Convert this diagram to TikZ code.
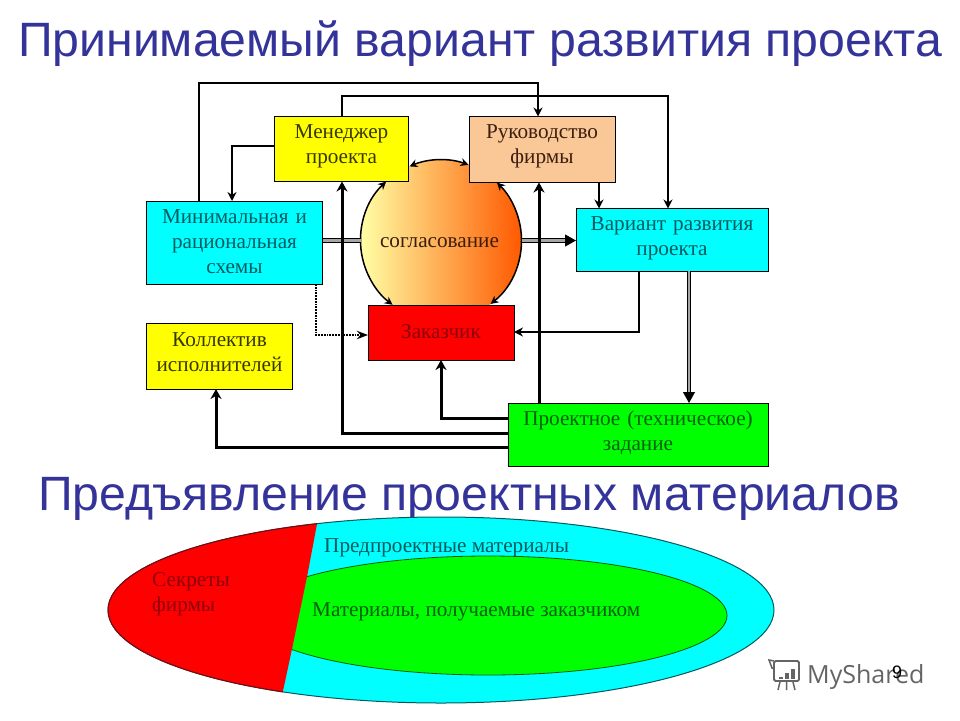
\documentclass[tikz,border=0pt]{standalone}
\usepackage{fontspec}
\setmainfont{Liberation Serif}
\newfontfamily\headfont{Liberation Sans}
\newfontfamily\logofont{Open Sans}
\usetikzlibrary{arrows.meta}
\definecolor{TitleColor}{RGB}{51,51,153}
\definecolor{CyanFill}{RGB}{0,255,255}
\definecolor{YellowFill}{RGB}{255,255,0}
\definecolor{PeachFill}{RGB}{250,200,150}
\definecolor{RedFill}{RGB}{255,0,0}
\definecolor{GreenFill}{RGB}{0,255,0}
\definecolor{CyanText}{RGB}{0,90,95}
\definecolor{YellowText}{RGB}{55,55,0}
\definecolor{PeachText}{RGB}{60,30,15}
\definecolor{RedText}{RGB}{140,0,10}
\definecolor{GreenText}{RGB}{0,95,10}
\definecolor{LogoColor}{RGB}{100,100,100}
\tikzstyle{arrow} = [line width=2pt, ->, >={Stealth[length=9pt,width=9pt]}]
\tikzstyle{heavy} = [line width=3pt, ->, >={Stealth[length=10pt,width=11pt]}]
\tikzstyle{twin} = [draw=black, line width=1pt, double=black!35, double distance=2.2pt, -{Triangle[length=11pt,width=12pt]}]
\tikzstyle{twinplain} = [draw=black, line width=1pt, double=black!35, double distance=2.2pt]
\tikzstyle{dots} = [line width=1.8pt, densely dotted, ->, >=Stealth]
\tikzstyle{rim} = [line width=1.5pt, <->, >={Stealth[length=8pt,width=8pt]}]
\tikzset{
  box/.style={draw=black, line width=0.8pt, anchor=north west, inner sep=0pt, outer sep=0pt,
    align=center, font=\fontsize{21.2}{25}\selectfont},
  title/.style={anchor=base, text=TitleColor, inner sep=0pt, font=\headfont\fontsize{48.2}{54}\selectfont},
  oval text/.style={anchor=base west, inner sep=0pt, align=left, font=\fontsize{21.2}{25}\selectfont}
}

\begin{document}
\begin{tikzpicture}[x=1pt,y=-1pt]
    \useasboundingbox (0,0) rectangle (960,720);

    % Titles
    \node[title] (head) at (480,56) {Принимаемый вариант развития проекта};
    \node[title] (subhead) at (469,510) {Предъявление проектных материалов};

    % Circle
    \node[circle, minimum size=161pt, inner sep=0pt, outer sep=0pt, left color=yellow!35, middle color=orange!55!yellow!70, right color=orange!70!red,
        text=PeachText, text height=13pt, text depth=0pt, font=\fontsize{21.2}{25}\selectfont] (agree) at (441,240.5) {согласование\hspace*{3pt}};
    \foreach \a/\b in {70/113, 133/233, 308/406} {
            \draw[rim] (agree.\a) arc[start angle=\a, end angle=\b, radius=80.5pt];
        }

    % Boxes
    \node[box, fill=YellowFill, text=YellowText, text width=134pt, text height=22pt, text depth=43pt] (mgr) at (274.5,116.5) {Менеджер\\проекта};
    \node[box, fill=PeachFill, text=PeachText, text width=146pt, text height=22pt, text depth=44pt] (boss) at (469,116.5) {Руководство\\фирмы};
    \node[box, fill=CyanFill, text=CyanText, text width=176pt, text height=22pt, text depth=61pt] (minim) at (146.5,201) {Минимальная и\\рациональная\\схемы};
    \node[box, fill=CyanFill, text=CyanText, text width=192pt, text height=22pt, text depth=40.5pt] (var) at (576,208.5) {Вариант развития\\проекта};
    \node[box, fill=YellowFill, text=YellowText, text width=146pt, text height=23pt, text depth=43pt] (team) at (146.5,323) {Коллектив\\исполнителей};
    \node[box, fill=RedFill, text=RedText, text width=146pt, text height=33pt, text depth=22pt] (client) at (368,305) {Заказчик};
    \node[box, fill=GreenFill, text=GreenText, text width=260pt, text height=22pt, text depth=41pt] (task) at (508,403) {Проектное (техническое)\\задание};

    % Routing points
    \coordinate (busA) at (199,83);
    \coordinate (dropA) at (538,83);
    \coordinate (busB) at (342,96);
    \coordinate (dropB) at (668,96);
    \coordinate (kneeC) at (232,146);
    \coordinate (dropD) at (599,195);
    \coordinate (kneeE) at (639,332);
    \coordinate (dropF) at (689,340);
    \coordinate (kneeG) at (316,335);
    \coordinate (kneeH) at (441,418);
    \coordinate (kneeI) at (342,433);
    \coordinate (kneeJ) at (216,447);
    \coordinate (dropK) at (539,300);

    % Double lines
    \draw[twinplain] (minim.east |- agree) -- (agree.west);
    \draw[twin] (agree.east) -- (var.west |- agree);
    \draw[twin] (var.south -| dropF) -- (task.north -| dropF);

    % Thin connectors
    \draw[arrow] (minim.north -| busA) -- (busA) -| (boss.north -| dropA);
    \draw[arrow] (mgr.north -| busB) -- (busB) -| (var.north -| dropB);
    \draw[arrow] (mgr.west |- kneeC) -- (kneeC) -- (minim.north -| kneeC);
    \draw[arrow] (boss.south -| dropD) -- (var.north -| dropD);
    \draw[arrow] (var.south -| kneeE) -- (kneeE) -- (client.east |- kneeE);
    \draw[dots] (minim.south -| kneeG) -- (kneeG) -- (client.west |- kneeG);

    % Heavy connectors
    \draw[heavy] (task.west |- kneeH) -- (kneeH) -- (client.south);
    \draw[heavy] (task.west |- kneeI) -- (kneeI) -- (mgr.south -| kneeI);
    \draw[heavy] (task.west |- kneeJ) -- (kneeJ) -- (team.south -| kneeJ);
    \draw[heavy] (task.north -| dropK) -- (boss.south -| dropK);

    % Ovals
    \fill[CyanFill] (441,610) ellipse[x radius=333pt, y radius=93pt];
    \draw[fill=GreenFill, draw=GreenText, line width=0.8pt] (488,615.5) ellipse[x radius=239pt, y radius=59.5pt];
    \begin{scope}
        \clip (441,610) ellipse[x radius=333pt, y radius=93pt];
        \fill[RedFill] (320,505) -- (317,524) -- (307,577) -- (292,649) -- (283,691) -- (279,715) -- (50,715) -- (50,505) -- cycle;
    \end{scope}
    \draw[draw=CyanText, line width=1pt] (441,610) ellipse[x radius=333pt, y radius=93pt];
    \begin{scope}
        \clip (320,505) -- (317,524) -- (307,577) -- (292,649) -- (283,691) -- (279,715) -- (50,715) -- (50,505) -- cycle;
        \draw[draw=RedText, line width=1pt] (441,610) ellipse[x radius=333pt, y radius=93pt];
    \end{scope}
    \node[oval text, text=RedText] (secret) at (152,611) {Секреты\\фирмы};
    \node[oval text, text=CyanText] (pre) at (324,552) {Предпроектные материалы};
    \node[oval text, text=GreenText] (got) at (312,616) {Материалы, получаемые заказчиком};

    % Logo and page number
    \draw[LogoColor, line width=1.8pt, rounded corners=1.5pt] (774,661) rectangle (799,681);
    \draw[LogoColor, line width=1.5pt] (774,661) -- (769,660) -- (772,668) -- (774,668);
    \foreach \x/\y in {779/677, 785/673, 791/669} {
            \fill[LogoColor] (\x,679) rectangle ++(3.5,\y-679);
        }
    \draw[LogoColor, line width=1.5pt] (780,682) -- (778,690) (786.5,682) -- (786.5,690) (793,682) -- (795,690);
    \node[anchor=base west, inner sep=0pt, text=LogoColor, font=\logofont\fontsize{25}{28}\selectfont] (logo) at (807,683) {MyShared};
    \node[anchor=base, inner sep=0pt, font=\headfont\fontsize{18}{20}\selectfont] (page) at (897,678) {9};
\end{tikzpicture}
\end{document}
